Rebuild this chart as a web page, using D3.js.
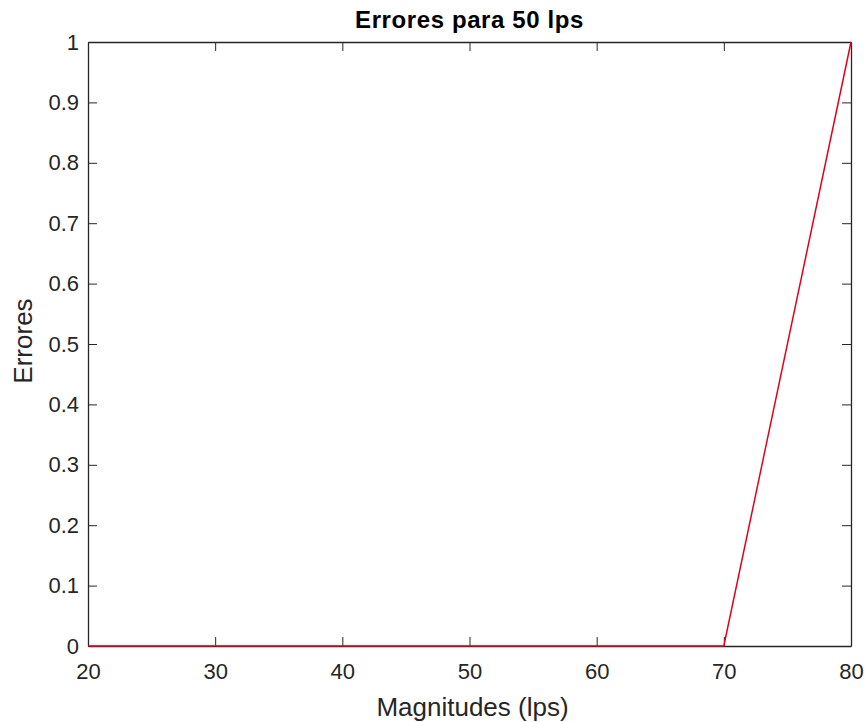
<!DOCTYPE html>
<html>
<head>
<meta charset="utf-8">
<script src="https://cdn.jsdelivr.net/npm/d3@7"></script>
<style>
  body { margin: 0; background: #fff; }
  svg { font-family: "Liberation Sans", Arial, sans-serif; }
  .axis text { fill: #262626; font-size: 22px; font-family: "Liberation Sans", Arial, sans-serif; }
  .axis path, .axis line { stroke: #262626; }
</style>
</head>
<body>
<svg id="graph" width="866" height="722"></svg>
<script>
// data
var magnitudes = [20, 30, 40, 50, 60, 70, 80];
var errores = [0, 0, 0, 0, 0, 0, 1];
var xTicks = [20, 30, 40, 50, 60, 70, 80];
var yTicks = [0, 0.1, 0.2, 0.3, 0.4, 0.5, 0.6, 0.7, 0.8, 0.9, 1];

var svg = d3.select("svg#graph"),
    margin = {top: 42, left: 88, bottom: 76, right: 15},
    width = 866 - margin.left - margin.right,
    height = 722 - margin.top - margin.bottom;

var g = svg.append("g")
    .attr("transform", "translate(" + margin.left + "," + margin.top + ")");

var x = d3.scaleLinear().domain([20, 80]).range([0, width]);
var y = d3.scaleLinear().domain([0, 1]).range([height, 0]);

var tickLen = 9;

// bottom + top axes (ticks pointing inward)
g.append("g")
    .attr("class", "x axis")
    .attr("transform", "translate(0," + height + ")")
    .call(d3.axisBottom(x).tickValues(xTicks).tickSizeInner(-tickLen).tickSizeOuter(0).tickPadding(17));

g.append("g")
    .attr("class", "x axis top")
    .call(d3.axisTop(x).tickValues(xTicks).tickSizeInner(-tickLen).tickSizeOuter(0))
    .selectAll("text").remove();

// left + right axes
g.append("g")
    .attr("class", "y axis")
    .call(d3.axisLeft(y).tickValues(yTicks).tickFormat(d3.format("~g")).tickSizeInner(-tickLen).tickSizeOuter(0).tickPadding(9));

g.append("g")
    .attr("class", "y axis right")
    .attr("transform", "translate(" + width + ",0)")
    .call(d3.axisRight(y).tickValues(yTicks).tickSizeInner(-tickLen).tickSizeOuter(0))
    .selectAll("text").remove();

g.selectAll(".axis path").attr("stroke-width", 1.3);

// the data line
var line = d3.line()
    .x(function (d, i) { return x(magnitudes[i]); })
    .y(function (d) { return y(d); });

g.append("path")
    .attr("d", line(errores))
    .attr("fill", "none")
    .attr("stroke", "#e3001b")
    .attr("stroke-width", 1.5);

// title and labels
svg.append("text")
    .attr("x", margin.left + width / 2)
    .attr("y", 28)
    .attr("text-anchor", "middle")
    .attr("font-size", "24px")
    .attr("letter-spacing", "0.6px")
    .attr("font-weight", "bold")
    .attr("fill", "#000")
    .text("Errores para 50 lps");

svg.append("text")
    .attr("x", margin.left + width / 2 + 3)
    .attr("y", 716)
    .attr("text-anchor", "middle")
    .attr("font-size", "26px")
    .attr("fill", "#262626")
    .text("Magnitudes (lps)");

svg.append("text")
    .attr("transform", "translate(32,341) rotate(-90)")
    .attr("text-anchor", "middle")
    .attr("font-size", "26px")
    .attr("fill", "#262626")
    .text("Errores");
</script>
</body>
</html>
